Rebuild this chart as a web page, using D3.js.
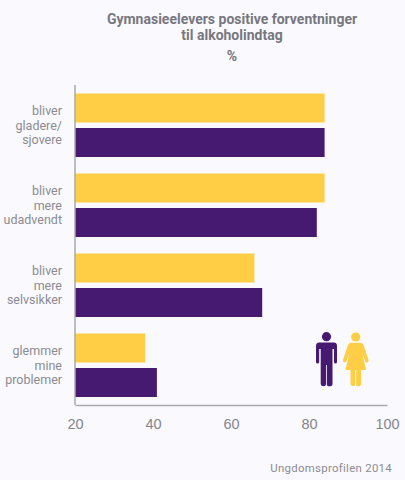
<!DOCTYPE html>
<html>
<head>
<meta charset="utf-8">
<script src="https://d3js.org/d3.v7.min.js"></script>
<style>
  html, body { margin: 0; padding: 0; background: #fafafe; }
  svg { display: block; font-family: Roboto, sans-serif; }
  .title { font-size: 14px; font-weight: 700; fill: #77777f; text-anchor: middle; }
  .cat { font-size: 12.5px; fill: #8b8b92; text-anchor: end; }
  .tick text { font-size: 14.5px; fill: #85858c; }
  .source { font-size: 11.4px; fill: #8b8b92; text-anchor: end; letter-spacing: 0.3px; }
</style>
</head>
<body>
<div id="chart"></div>
<script>
const categories = [
  ["bliver", "gladere/", "sjovere"],
  ["bliver", "mere", "udadvendt"],
  ["bliver", "mere", "selvsikker"],
  ["glemmer", "mine", "problemer"]
];
const girls = [84, 84, 66, 38];
const boys = [84, 82, 68, 41];
const xTicks = [20, 40, 60, 80, 100];
const titleLines = ["Gymnasieelevers positive forventninger", "til alkoholindtag"];

const width = 405, height = 480;
const margin = {top: 85, right: 18, bottom: 75, left: 75};

const svg = d3.select("#chart").append("svg")
  .attr("width", width)
  .attr("height", height);

svg.selectAll("text.title")
  .data(titleLines.concat(["%"]))
  .enter().append("text")
  .attr("class", "title")
  .attr("x", 232)
  .attr("y", (d, i) => [24, 40, 61][i])
  .text(d => d);

const x = d3.scaleLinear().domain([20, 100]).range([margin.left, width - margin.right]);
const y = d3.scaleBand().domain(d3.range(categories.length)).range([margin.top, height - margin.bottom]);

// two bars in each band
const barH = 29;
const series = [
  {name: "girls", values: girls, color: "#ffce45", off: 8.5},
  {name: "boys", values: boys, color: "#461a70", off: 43}
];

series.forEach(s => {
  svg.selectAll("rect." + s.name)
    .data(s.values)
    .enter().append("rect")
    .attr("class", s.name)
    .attr("x", x(20))
    .attr("y", (d, i) => y(i) + s.off)
    .attr("width", d => x(d) - x(20))
    .attr("height", barH)
    .attr("fill", s.color);
});

const xAxis = svg.append("g")
  .attr("transform", `translate(0,${height - margin.bottom})`)
  .call(d3.axisBottom(x).tickValues(xTicks).tickSize(0).tickPadding(14).tickFormat(d3.format("d")));
xAxis.select(".domain").attr("stroke", "#a9a9b0").attr("stroke-width", 1.5);

svg.append("line")
  .attr("x1", x(20)).attr("x2", x(20))
  .attr("y1", margin.top).attr("y2", height - margin.bottom)
  .attr("stroke", "#a9a9b0").attr("stroke-width", 1.5);

const labels = svg.selectAll("text.cat")
  .data(categories)
  .enter().append("text")
  .attr("class", "cat")
  .attr("y", (d, i) => y(i) + 30);
labels.selectAll("tspan")
  .data(d => d)
  .enter().append("tspan")
  .attr("x", 62)
  .attr("dy", (d, i) => i ? 14.5 : 0)
  .text(d => d);

// legend figures
const man = svg.append("g").attr("fill", "#461a70");
man.append("circle").attr("cx", 326.5).attr("cy", 336.7).attr("r", 4.6);
man.append("path").attr("d", "M319 342.5H334Q337 342.5 337 346V362Q337 363.5 335.5 363.5T334 362V349H332.5V384Q332.5 386.3 329.5 386.3T326.9 384V365H326.1V384Q326.1 386.3 323.5 386.3T320.7 384V349H319.2V362Q319.2 363.5 317.6 363.5T316 362V346Q316 342.5 319 342.5Z");

const woman = svg.append("g").attr("fill", "#ffce45");
woman.append("circle").attr("cx", 355.7).attr("cy", 337).attr("r", 4.6);
woman.append("path").attr("d", "M351 342.8H360.5Q362.5 342.8 363.5 345L368.5 360Q369 362 367.3 362.5T365 361L362 352L366 370H361V384Q361 386.3 358.3 386.3T356.2 384V370H355.2V384Q355.2 386.3 353 386.3T350.5 384V370H345.5L349.5 352L346.5 361Q345.8 363 344.2 362.5T343 360L348 345Q349 342.8 351 342.8Z");

svg.append("text")
  .attr("class", "source")
  .attr("x", 392)
  .attr("y", 472)
  .text("Ungdomsprofilen 2014");
</script>
</body>
</html>
